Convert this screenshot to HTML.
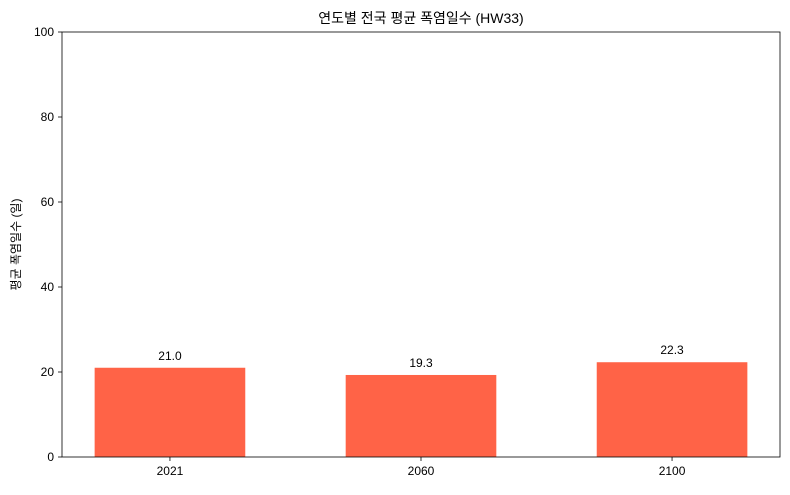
<!DOCTYPE html>
<html><head><meta charset="utf-8"><style>
body{margin:0;background:#fff;}
svg{font-family:"Liberation Sans","Noto Sans CJK KR",sans-serif;}
</style></head><body>
<svg id="chart" width="790" height="490"></svg>
<script>
const categories=["2021","2060","2100"];
const values=[21.0,19.3,22.3];
const valueLabels=["21.0","19.3","22.3"];
const yTicks=[0,20,40,60,80,100];
const ns="http://www.w3.org/2000/svg";
const svg=document.getElementById('chart');
const L=62,R=780,T=32,B=457;
const y=v=>B-(v/100)*(B-T);
const step=(R-L)/2.86;
const x=i=>L+(i+0.43)*step;
function mk(tag,attrs,txt){const e=document.createElementNS(ns,tag);for(const k in attrs)e.setAttribute(k,attrs[k]);if(txt!=null)e.textContent=txt;svg.appendChild(e);return e;}
categories.forEach((c,i)=>{
  const w=0.6*step;
  const r=mk('rect',{x:x(i)-w/2,y:y(values[i]),width:w,height:B-y(values[i]),fill:'#ff6347'});
  
  
  const t=mk('text',{x:x(i),y:y(values[i])-8,'text-anchor':'middle','font-size':12,fill:'#000'},valueLabels[i]);
  
  
  mk('line',{x1:x(i),x2:x(i),y1:B,y2:B+4,stroke:'#000','stroke-width':0.8});
  const xl=mk('text',{x:x(i),y:B+18,'text-anchor':'middle','font-size':12},c);
  
  
});
yTicks.forEach(v=>{
  mk('line',{x1:L-4,x2:L,y1:y(v),y2:y(v),stroke:'#000','stroke-width':0.8});
  const t=mk('text',{x:L-8,y:y(v)+4,'text-anchor':'end','font-size':12},String(v));
  
  
});
const frame=mk('rect',{x:L,y:T,width:R-L,height:B-T,fill:'none',stroke:'#000','stroke-width':0.8});


const title=mk('text',{x:(L+R)/2,y:23,'text-anchor':'middle','font-size':14},'연도별 전국 평균 폭염일수 (HW33)');


const yt=mk('text',{x:0,y:0,'text-anchor':'middle','font-size':12,transform:`translate(20,${(T+B)/2}) rotate(-90)`},'평균 폭염일수 (일)');


</script>
</body></html>
